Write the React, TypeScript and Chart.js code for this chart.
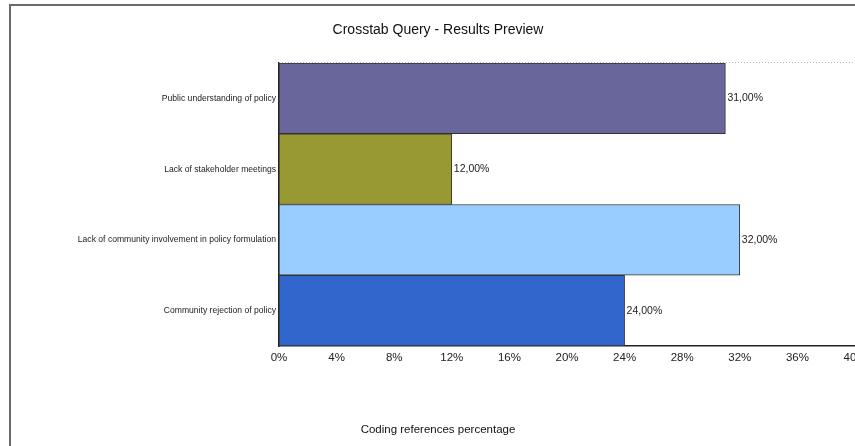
import React, { useEffect, useRef } from "react";
import { Chart, registerables } from "chart.js";

Chart.register(...registerables);

const categories = [
  "Public understanding of policy",
  "Lack of stakeholder meetings",
  "Lack of community involvement in policy formulation",
  "Community rejection of policy",
];
const values = [31, 12, 32, 24];
const barColors = ["#68669a", "#999933", "#99ccff", "#3366cc"];
const xMin = 0;
const xMax = 40;
const xStep = 4;
const chartTitle = "Crosstab Query - Results Preview";
const xTitle = "Coding references percentage";

const FONT = "'Liberation Sans', Arial, sans-serif";

const valueLabels = {
  id: "valueLabels",
  afterDatasetsDraw(chart: any) {
    const ctx = chart.ctx;
    const meta = chart.getDatasetMeta(0);
    ctx.save();
    ctx.font = `10.5px ${FONT}`;
    ctx.fillStyle = "#222";
    ctx.textAlign = "left";
    ctx.textBaseline = "middle";
    meta.data.forEach((bar: any, i: number) => {
      const v = chart.data.datasets[0].data[i] as number;
      ctx.fillText(v.toFixed(2).replace(".", ",") + "%", bar.x + 2, bar.y);
    });
    ctx.restore();
  },
};

const topDotted = {
  id: "topDotted",
  beforeDatasetsDraw(chart: any) {
    const { ctx, chartArea } = chart;
    const y = Math.round(chartArea.top) - 0.5;
    ctx.save();
    ctx.strokeStyle = "#b8b8b8";
    ctx.lineWidth = 1;
    ctx.setLineDash([1, 2]);
    ctx.beginPath();
    ctx.moveTo(chartArea.left, y);
    ctx.lineTo(chartArea.right, y);
    ctx.stroke();
    ctx.restore();
  },
};

export default function App() {
  const ref = useRef<HTMLCanvasElement | null>(null);
  useEffect(() => {
    if (!ref.current) return;
    const chart = new Chart(ref.current, {
      type: "bar",
      data: {
        labels: categories,
        datasets: [
          {
            data: values,
            backgroundColor: barColors,
            borderColor: "#333",
            borderWidth: 1,
            borderSkipped: false,
            barPercentage: 1,
            categoryPercentage: 1,
          },
        ],
      },
      options: {
        indexAxis: "y",
        animation: false,
        responsive: false,
        maintainAspectRatio: false,
        layout: { padding: { left: 21, right: 0, top: 0, bottom: 0 } },
        plugins: {
          legend: { display: false },
          tooltip: { enabled: false },
          title: {
            display: true,
            text: chartTitle,
            color: "#111",
            font: { family: FONT, size: 14, weight: "normal" },
            padding: { top: 21.6, bottom: 24.6 },
          },
          subtitle: {
            display: true,
            position: "bottom",
            text: xTitle,
            color: "#111",
            font: { family: FONT, size: 11.5, weight: "normal" },
            padding: { top: 0, bottom: 9.1 },
          },
        },
        scales: {
          x: {
            type: "linear",
            position: "bottom",
            min: xMin,
            max: xMax,
            grid: { display: false, drawTicks: false },
            border: { display: true, color: "#222", width: 1.5 },
            ticks: {
              stepSize: xStep,
              padding: 5,
              color: "#222",
              font: { family: FONT, size: 11.5 },
              callback: (v: any) => v + "%",
              maxRotation: 0,
            },
            afterFit: (s: any) => {
              s.height = 77.1;
              s.paddingLeft = 0;
              s.paddingRight = 0;
            },
          },
          y: {
            type: "category",
            grid: { display: false, drawTicks: false },
            border: { display: true, color: "#222", width: 1.5 },
            ticks: {
              padding: 3,
              color: "#222",
              font: { family: FONT, size: 8.6 },
            },
            afterFit: (s: any) => {
              s.width = 258;
              s.paddingTop = 0;
              s.paddingBottom = 0;
            },
          },
        },
      },
      plugins: [topDotted, valueLabels],
    });
    return () => chart.destroy();
  }, []);

  return (
    <div
      style={{
        position: "absolute",
        left: 0,
        top: 0,
        width: 855,
        height: 446,
        background: "#fff",
        overflow: "hidden",
      }}
    >
      <div
        style={{
          position: "absolute",
          left: 9,
          top: 4,
          width: 900,
          height: 500,
          borderTop: "2px solid #6a6a6a",
          borderLeft: "2px solid #6a6a6a",
        }}
      />
      <canvas
        ref={ref}
        width={855}
        height={446}
        style={{ position: "absolute", left: 0, top: 0, width: 855, height: 446 }}
      />
    </div>
  );
}
